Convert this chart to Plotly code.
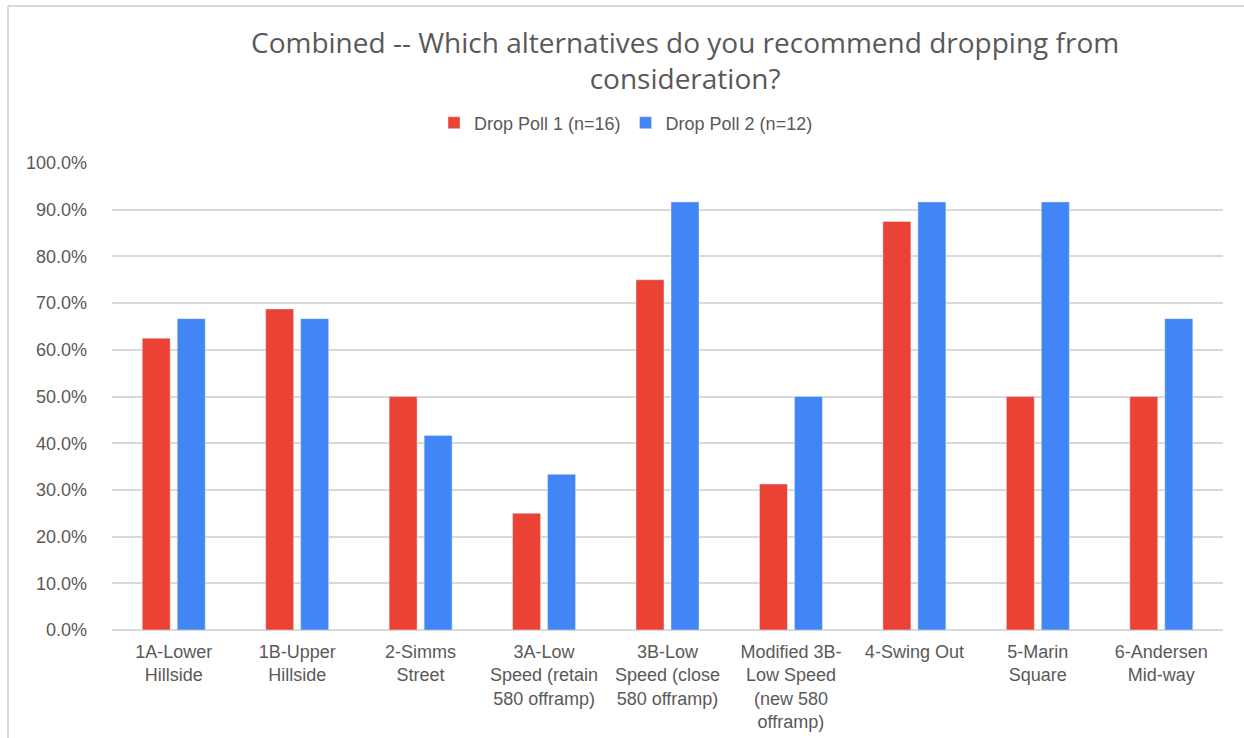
import plotly.graph_objects as go

categories = [
    "1A-Lower<br>Hillside",
    "1B-Upper<br>Hillside",
    "2-Simms<br>Street",
    "3A-Low<br>Speed (retain<br>580 offramp)",
    "3B-Low<br>Speed (close<br>580 offramp)",
    "Modified 3B-<br>Low Speed<br>(new 580<br>offramp)",
    "4-Swing Out",
    "5-Marin<br>Square",
    "6-Andersen<br>Mid-way",
]
poll1_name = "Drop Poll 1 (n=16)"
poll2_name = "Drop Poll 2 (n=12)"
poll1 = [62.5, 68.75, 50.0, 25.0, 75.0, 31.25, 87.5, 50.0, 50.0]
poll2 = [66.67, 66.67, 41.67, 33.33, 91.67, 50.0, 91.67, 91.67, 66.67]
y_ticks = [0, 10, 20, 30, 40, 50, 60, 70, 80, 90, 100]
title_text = "Combined -- Which alternatives do you recommend dropping from<br>consideration?"

W, H = 1244, 738
L, R, T, B = 112, 21, 163, 108
pw, ph = W - L - R, H - T - B

def px_x(p):
    return (p - L) / pw

def px_y(p):
    return (H - B - p) / ph

fig = go.Figure()
fig.add_trace(go.Bar(x=categories, y=poll1, name=poll1_name, marker_color="#EA4335"))
fig.add_trace(go.Bar(x=categories, y=poll2, name=poll2_name, marker_color="#4285F4"))

grey = "#595959"
fig.update_layout(
    width=W, height=H,
    margin=dict(l=L, r=R, t=T, b=B, autoexpand=False),
    paper_bgcolor="white", plot_bgcolor="white",
    barmode="group", bargap=0.433, bargroupgap=0.2,
    legend=dict(
        orientation="h", x=626 / W, xref="container", xanchor="center",
        y=1 - 123 / H, yref="container", yanchor="middle",
        font=dict(family="Liberation Sans, Arial, sans-serif", size=18, color=grey),
        traceorder="normal",
    ),
    font=dict(family="Liberation Sans, Arial, sans-serif", size=18, color=grey),
    showlegend=True,
)
fig.add_annotation(
    text=title_text, showarrow=False,
    xref="paper", yref="paper", x=px_x(685), y=px_y(60),
    xanchor="center", yanchor="middle",
    font=dict(family="Open Sans, sans-serif", size=28, color=grey),
)
fig.update_xaxes(
    showgrid=False, showline=False, ticks="", tickangle=0,
    tickfont=dict(size=18, color=grey), ticklabelstandoff=9,
)
fig.update_yaxes(
    range=[0, 100], tickvals=y_ticks, ticktext=[f"{v:.1f}%" for v in y_ticks],
    showgrid=True, gridcolor="#d9d9d9", gridwidth=1.5,
    zeroline=True, zerolinecolor="#d9d9d9", zerolinewidth=1.5,
    showline=False, ticks="", ticklabelstandoff=24,
    tickfont=dict(size=18, color=grey),
)
# outer chart border (left and top edges visible)
fig.add_shape(type="line", xref="paper", yref="paper",
              x0=px_x(8), x1=px_x(8), y0=px_y(6), y1=px_y(745),
              line=dict(color="#d9d9d9", width=2))
fig.add_shape(type="line", xref="paper", yref="paper",
              x0=px_x(8), x1=px_x(1250), y0=px_y(6), y1=px_y(6),
              line=dict(color="#d9d9d9", width=2))

fig.write_html("out.html")
